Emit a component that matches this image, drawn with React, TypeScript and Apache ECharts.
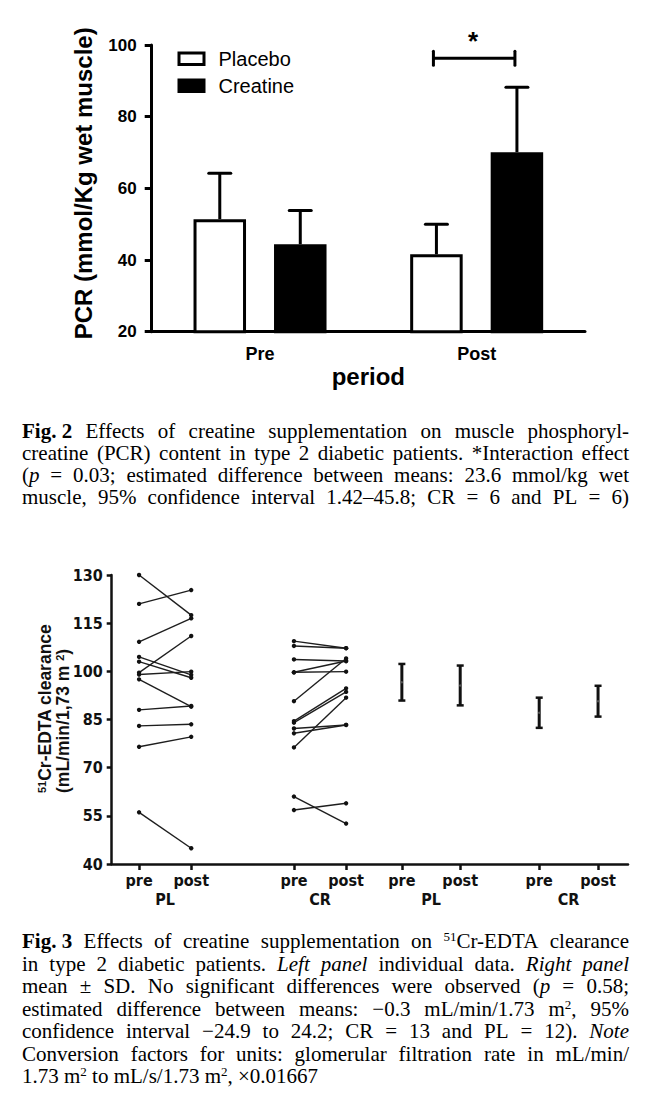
import React, { useEffect, useRef } from "react";
import * as echarts from "echarts";

// ---------- Fig. 2 data ----------
const PCR_CATEGORIES = ["Pre", "Post"];
const PCR_PLACEBO_MEAN = [51.4, 41.6];
const PCR_PLACEBO_SD = [12.8, 8.4];
const PCR_CREATINE_MEAN = [44.4, 70.1];
const PCR_CREATINE_SD = [9.4, 18.1];
const PCR_SIG_BRACKET = [[1, 96.3]]; // category index, y value

// ---------- Fig. 3 data ----------
const GFR_SLOT_X = [5.3, 15.4, 35.3, 45.4, 56.2, 67.5, 82.8, 94.2];
const GFR_SLOT_LABELS = ["pre", "post", "pre", "post", "pre", "post", "pre", "post"];
const GFR_GROUP_X = [10.35, 40.35, 61.85, 88.5];
const GFR_GROUP_LABELS = ["PL", "CR", "PL", "CR"];
const PL_PRE = [130, 121, 109.2, 104.5, 103, 99.6, 99, 97.5, 88, 83, 76.5, 56.1];
const PL_POST = [117.5, 125.3, 116.5, 98.9, 98.0, 111, 99.9, 89, 89.2, 83.5, 79.6, 44.9];
const CR_PRE = [109.4, 107.9, 103.7, 99.7, 99.7, 90.7, 84.5, 84.0, 82.2, 80.7, 76.3, 61.0, 56.8];
const CR_POST = [107.2, 107.2, 103.2, 103.2, 99.9, 104.0, 94.7, 93.6, 83.3, 83.3, 91.8, 52.6, 58.9];
const GFR_MEAN = [96.6, 95.6, 87.1, 90.7];
const GFR_SD = [5.7, 6.2, 4.7, 4.8];

// ---------- Captions ----------
const FIG2_CAPTION = [
  "{b|Fig.\u00a02} Effects of creatine supplementation on muscle phosphoryl-",
  "creatine (PCR) content in type 2 diabetic patients. *Interaction effect",
  "({i|p} = 0.03; estimated difference between means: 23.6 mmol/kg wet",
  "muscle, 95% confidence interval 1.42–45.8; CR = 6 and PL = 6)",
];
const FIG3_CAPTION = [
  "{b|Fig.\u00a03} Effects of creatine supplementation on {sup|51}Cr-EDTA clearance",
  "in type 2 diabetic patients. {i|Left} {i|panel} individual data. {i|Right} {i|panel}",
  "mean ± SD. No significant differences were observed ({i|p} = 0.58;",
  "estimated difference between means: −0.3 mL/min/1.73 m{sup|2}, 95%",
  "confidence interval −24.9 to 24.2; CR = 13 and PL = 12). {i|Note}",
  "Conversion factors for units: glomerular filtration rate in mL/min/",
  "1.73 m{sup|2} to mL/s/1.73 m{sup|2}, ×0.01667",
];

const SANS = '"Liberation Sans", Arial, sans-serif';
const NARROW = '"Liberation Sans Narrow", "Arial Narrow", "DejaVu Sans Condensed", sans-serif';
const SERIF = '"Liberation Serif", "Times New Roman", serif';
const CAP_SIZE = 21;
const SUP_SIZE = 13;

const BAR_W = 52.5;
const BAR_GAP_PX = 28;
const BAR_OFFSET = (BAR_W + BAR_GAP_PX) / 2;

const CAPTION_RICH = {
  b: { fontWeight: "bold", fontSize: CAP_SIZE, fontFamily: SERIF, fill: "#000", lineHeight: 22 },
  i: { fontStyle: "italic", fontSize: CAP_SIZE, fontFamily: SERIF, fill: "#000", lineHeight: 22 },
  sup: { fontSize: SUP_SIZE, fontFamily: SERIF, fill: "#000", verticalAlign: "top", lineHeight: 16 },
};

function segFont(kind: string) {
  if (kind === "b") return `bold ${CAP_SIZE}px ${SERIF}`;
  if (kind === "i") return `italic ${CAP_SIZE}px ${SERIF}`;
  if (kind === "sup") return `${SUP_SIZE}px ${SERIF}`;
  return `${CAP_SIZE}px ${SERIF}`;
}

function measureToken(ctx: CanvasRenderingContext2D, token: string) {
  let w = 0;
  const re = /\{(\w+)\|([^}]*)\}|([^{]+)/g;
  let m: RegExpExecArray | null;
  while ((m = re.exec(token))) {
    if (m[3] !== undefined) {
      ctx.font = segFont("");
      w += ctx.measureText(m[3]).width;
    } else {
      ctx.font = segFont(m[1]);
      w += ctx.measureText(m[2]).width;
    }
  }
  return w;
}

function buildCaption(lines: string[], firstY: number, step: number, justified: number, left: number, right: number) {
  const ctx = document.createElement("canvas").getContext("2d") as CanvasRenderingContext2D;
  const els: any[] = [];
  lines.forEach((line, li) => {
    const tokens = line.split(" ");
    const widths = tokens.map((t) => measureToken(ctx, t));
    const total = widths.reduce((a, b) => a + b, 0);
    let gap: number;
    if (li < justified && tokens.length > 1) {
      gap = (right - left - total) / (tokens.length - 1);
    } else {
      ctx.font = segFont("");
      gap = ctx.measureText(" ").width;
    }
    let x = left;
    tokens.forEach((t, i) => {
      els.push({
        type: "text",
        x,
        y: firstY + li * step,
        silent: true,
        style: {
          text: t,
          fill: "#000",
          fontSize: CAP_SIZE,
          fontFamily: SERIF,
          align: "left",
          verticalAlign: "middle",
          lineHeight: 22,
          rich: CAPTION_RICH,
        },
      });
      x += widths[i] + gap;
    });
  });
  return els;
}

function slotLabel(v: number, xs: number[], labels: string[]) {
  let best = 0;
  xs.forEach((x, i) => {
    if (Math.abs(x - v) < Math.abs(xs[best] - v)) best = i;
  });
  return labels[best];
}

export default function App() {
  const ref = useRef<HTMLDivElement>(null);

  useEffect(() => {
    if (!ref.current) return;
    const chart = echarts.init(ref.current, undefined, { renderer: "svg" });

    const errRender = (offset: number) => (params: any, api: any) => {
      const base = api.coord([api.value(0), api.value(1)]);
      const top = api.coord([api.value(0), api.value(2)]);
      const x = base[0] + offset;
      return {
        type: "group",
        children: [
          { type: "line", shape: { x1: x, y1: base[1], x2: x, y2: top[1] }, style: { stroke: "#000", lineWidth: 3 } },
          { type: "line", shape: { x1: x - 11, y1: top[1], x2: x + 11, y2: top[1] }, style: { stroke: "#000", lineWidth: 3, lineCap: "round" } },
        ],
      };
    };

    const pairRender = (params: any, api: any) => {
      const p1 = api.coord([api.value(0), api.value(1)]);
      const p2 = api.coord([api.value(2), api.value(3)]);
      return {
        type: "group",
        children: [
          { type: "line", shape: { x1: p1[0], y1: p1[1], x2: p2[0], y2: p2[1] }, style: { stroke: "#1e1e1e", lineWidth: 1.4 } },
          { type: "circle", shape: { cx: p1[0], cy: p1[1], r: 2.2 }, style: { fill: "#111" } },
          { type: "circle", shape: { cx: p2[0], cy: p2[1], r: 2.2 }, style: { fill: "#111" } },
        ],
      };
    };

    const meanSdRender = (params: any, api: any) => {
      const x = api.value(0);
      const m = api.value(1);
      const sd = api.value(2);
      const c = api.coord([x, m]);
      const t = api.coord([x, m + sd]);
      const b = api.coord([x, m - sd]);
      return {
        type: "group",
        children: [
          { type: "line", shape: { x1: c[0], y1: t[1], x2: c[0], y2: b[1] }, style: { stroke: "#111", lineWidth: 3 } },
          { type: "line", shape: { x1: c[0] - 3.5, y1: t[1], x2: c[0] + 3.5, y2: t[1] }, style: { stroke: "#111", lineWidth: 2.5 } },
          { type: "line", shape: { x1: c[0] - 3.5, y1: b[1], x2: c[0] + 3.5, y2: b[1] }, style: { stroke: "#111", lineWidth: 2.5 } },
          { type: "circle", shape: { cx: c[0], cy: c[1], r: 1.2 }, style: { fill: "#555" } },
        ],
      };
    };

    const bracketRender = (params: any, api: any) => {
      const c = api.coord([api.value(0), api.value(1)]);
      const x1 = c[0] - BAR_OFFSET - 3;
      const x2 = c[0] + BAR_OFFSET - 2;
      return {
        type: "group",
        children: [
          { type: "line", shape: { x1, y1: c[1], x2, y2: c[1] }, style: { stroke: "#000", lineWidth: 3 } },
          { type: "line", shape: { x1, y1: c[1] - 7, x2: x1, y2: c[1] + 7 }, style: { stroke: "#000", lineWidth: 3, lineCap: "round" } },
          { type: "line", shape: { x1: x2, y1: c[1] - 7, x2, y2: c[1] + 7 }, style: { stroke: "#000", lineWidth: 3, lineCap: "round" } },
          {
            type: "text",
            x: (x1 + x2) / 2 - 1,
            y: c[1] - 17,
            style: { text: "*", fill: "#000", fontSize: 26, fontWeight: "bold", fontFamily: SANS, align: "center", verticalAlign: "middle" },
          },
        ],
      };
    };

    const graphic: any[] = [
      ...buildCaption(FIG2_CAPTION, 431, 22, 4, 22, 629),
      ...buildCaption(FIG3_CAPTION, 941, 22.5, 6, 22, 629),
      {
        type: "text",
        x: 54,
        y: 793,
        rotation: Math.PI / 2,
        silent: true,
        style: {
          text: "{sup|51}Cr-EDTA clearance\n(mL/min/1,73 m {sup|2})",
          fill: "#111",
          fontSize: 17.5,
          fontWeight: "bold",
          fontFamily: SANS,
          align: "left",
          verticalAlign: "middle",
          lineHeight: 18,
          rich: {
            sup: { fontSize: 11, fontWeight: "bold", fontFamily: SANS, fill: "#111", verticalAlign: "top", lineHeight: 13 },
          },
        },
      },
    ];

    const option: any = {
      animation: false,
      backgroundColor: "#fff",
      legend: {
        orient: "vertical",
        left: 177.5,
        top: 48.7,
        padding: 0,
        itemWidth: 25,
        itemHeight: 11.5,
        itemGap: 7,
        icon: "rect",
        selectedMode: false,
        textStyle: { fontSize: 20, fontFamily: SANS, color: "#000", padding: [0, 0, 0, 9.5] },
        data: [
          { name: "Placebo", itemStyle: { color: "#fff", borderColor: "#000", borderWidth: 3 } },
          { name: "Creatine", itemStyle: { color: "#000", borderColor: "#000", borderWidth: 3 } },
        ],
      },
      grid: [
        { left: 151.7, top: 45, width: 433.3, height: 286.7, outerBoundsMode: "none" },
        { left: 111.7, top: 575, width: 516.3, height: 289, outerBoundsMode: "none" },
      ],
      xAxis: [
        {
          type: "category",
          gridIndex: 0,
          position: "bottom",
          data: PCR_CATEGORIES,
          axisLine: { lineStyle: { color: "#000", width: 3 } },
          axisTick: { alignWithLabel: true, length: 7, lineStyle: { color: "#000", width: 3 } },
          axisLabel: { fontSize: 18, fontWeight: "bold", fontFamily: SANS, color: "#000", margin: 13 },
          name: "period",
          nameLocation: "middle",
          nameGap: 33,
          nameTextStyle: { fontSize: 24, fontWeight: "bold", fontFamily: SANS, color: "#000" },
        },
        {
          type: "value",
          gridIndex: 1,
          position: "bottom",
          min: 0,
          max: 100,
          splitLine: { show: false },
          axisLine: { lineStyle: { color: "#111", width: 2.5 } },
          axisTick: { customValues: GFR_SLOT_X, length: 6, lineStyle: { color: "#111", width: 2.5 } },
          axisLabel: {
            customValues: GFR_SLOT_X,
            formatter: (v: number) => slotLabel(v, GFR_SLOT_X, GFR_SLOT_LABELS),
            fontSize: 16,
            fontWeight: "bold",
            fontFamily: NARROW,
            color: "#111",
            margin: 8,
          },
        },
        {
          type: "value",
          gridIndex: 1,
          position: "bottom",
          offset: 0,
          min: 0,
          max: 100,
          splitLine: { show: false },
          axisLine: { show: false },
          axisTick: { show: false },
          axisLabel: {
            customValues: GFR_GROUP_X,
            formatter: (v: number) => slotLabel(v, GFR_GROUP_X, GFR_GROUP_LABELS),
            fontSize: 16,
            fontWeight: "bold",
            fontFamily: NARROW,
            color: "#111",
            margin: 27,
          },
        },
      ],
      yAxis: [
        {
          type: "value",
          gridIndex: 0,
          min: 20,
          max: 100,
          interval: 20,
          splitLine: { show: false },
          axisLine: { show: true, lineStyle: { color: "#000", width: 3 } },
          axisTick: { show: true, length: 7, lineStyle: { color: "#000", width: 3 } },
          axisLabel: { fontSize: 17, fontWeight: "bold", fontFamily: SANS, color: "#000", margin: 15 },
          name: "PCR (mmol/Kg wet muscle)",
          nameLocation: "middle",
          nameRotate: 90,
          nameGap: 56,
          nameTextStyle: { fontSize: 24, fontWeight: "bold", fontFamily: SANS, color: "#000", padding: [0, 0, 0, 10] },
        },
        {
          type: "value",
          gridIndex: 1,
          min: 40,
          max: 130,
          interval: 15,
          splitLine: { show: false },
          axisLine: { show: true, lineStyle: { color: "#111", width: 2.5 } },
          axisTick: { show: true, length: 5, lineStyle: { color: "#111", width: 2.5 } },
          axisLabel: { fontSize: 16, fontWeight: "bold", fontFamily: NARROW, color: "#111", margin: 9 },
        },
      ],
      series: [
        {
          name: "Placebo",
          type: "bar",
          xAxisIndex: 0,
          yAxisIndex: 0,
          data: PCR_PLACEBO_MEAN,
          barWidth: BAR_W,
          barGap: `${(BAR_GAP_PX / BAR_W) * 100}%`,
          itemStyle: { color: "#fff", borderColor: "#000", borderWidth: 3 },
        },
        {
          name: "Creatine",
          type: "bar",
          xAxisIndex: 0,
          yAxisIndex: 0,
          data: PCR_CREATINE_MEAN,
          barWidth: BAR_W,
          barGap: `${(BAR_GAP_PX / BAR_W) * 100}%`,
          itemStyle: { color: "#000", borderColor: "#000", borderWidth: 3 },
        },
        {
          name: "Placebo SD",
          type: "custom",
          xAxisIndex: 0,
          yAxisIndex: 0,
          clip: false,
          data: PCR_PLACEBO_MEAN.map((m, i) => [i, m, m + PCR_PLACEBO_SD[i]]),
          renderItem: errRender(-BAR_OFFSET),
          z: 5,
        },
        {
          name: "Creatine SD",
          type: "custom",
          xAxisIndex: 0,
          yAxisIndex: 0,
          clip: false,
          data: PCR_CREATINE_MEAN.map((m, i) => [i, m, m + PCR_CREATINE_SD[i]]),
          renderItem: errRender(BAR_OFFSET),
          z: 5,
        },
        {
          name: "Interaction",
          type: "custom",
          xAxisIndex: 0,
          yAxisIndex: 0,
          clip: false,
          data: PCR_SIG_BRACKET,
          renderItem: bracketRender,
          z: 5,
        },
        {
          name: "PL individual",
          type: "custom",
          xAxisIndex: 1,
          yAxisIndex: 1,
          clip: false,
          encode: { x: [0, 2], y: [1, 3] },
          data: PL_PRE.map((v, i) => [GFR_SLOT_X[0], v, GFR_SLOT_X[1], PL_POST[i]]),
          renderItem: pairRender,
        },
        {
          name: "CR individual",
          type: "custom",
          xAxisIndex: 1,
          yAxisIndex: 1,
          clip: false,
          encode: { x: [0, 2], y: [1, 3] },
          data: CR_PRE.map((v, i) => [GFR_SLOT_X[2], v, GFR_SLOT_X[3], CR_POST[i]]),
          renderItem: pairRender,
        },
        {
          name: "Mean ± SD",
          type: "custom",
          xAxisIndex: 1,
          yAxisIndex: 1,
          clip: false,
          encode: { x: 0, y: 1 },
          data: GFR_MEAN.map((m, i) => [GFR_SLOT_X[4 + i], m, GFR_SD[i]]),
          renderItem: meanSdRender,
        },
      ],
      graphic,
    };

    chart.setOption(option);
    return () => chart.dispose();
  }, []);

  return (
    <div
      ref={ref}
      style={{ position: "absolute", left: 0, top: 0, width: 651, height: 1111, background: "#fff" }}
    />
  );
}
